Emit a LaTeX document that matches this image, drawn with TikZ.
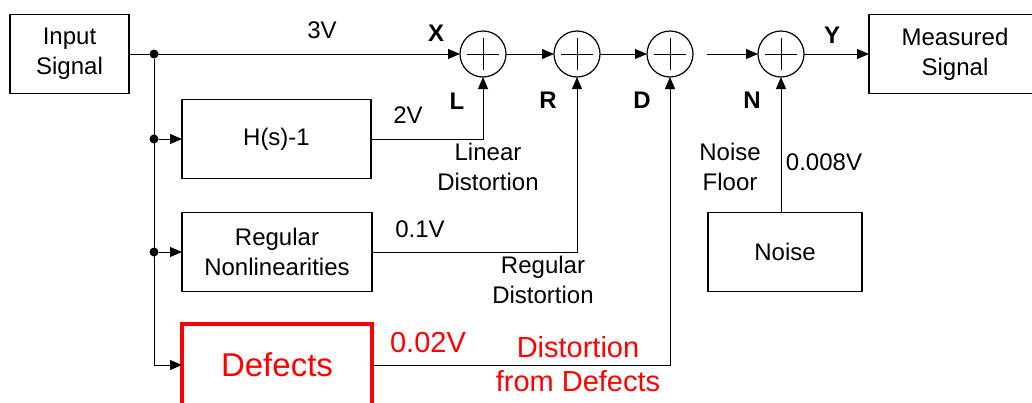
\documentclass[tikz,border=0pt]{standalone}
\usepackage{fontspec}
\setmainfont{Liberation Sans}
\usetikzlibrary{arrows.meta}
\definecolor{defred}{HTML}{FF0000}
\tikzset{
  box/.style={draw,line width=0.65pt,align=center,inner sep=2pt,outer sep=0pt,
    minimum height=39.5pt,font=\fontsize{12}{15}\selectfont},
  sum/.style={draw,circle,line width=0.6pt,minimum size=23pt,inner sep=0pt,outer sep=0pt,
    path picture={\draw[line width=0.5pt]
      ([xshift=-8pt]path picture bounding box.center) -- ([xshift=8pt]path picture bounding box.center)
      ([yshift=-8pt]path picture bounding box.center) -- ([yshift=8pt]path picture bounding box.center);}},
  arr/.style={-{Triangle[length=6pt,width=5pt]},line width=0.5pt},
  line/.style={line width=0.5pt},
  dot/.style={circle,fill,inner sep=0pt,minimum size=4.5pt},
  note/.style={font=\fontsize{12}{15}\selectfont,align=center},
  tag/.style={font=\bfseries\fontsize{12}{15}\selectfont},
  hot/.style={text=defred,font=\fontsize{14.5}{17}\selectfont,align=center}
}
\begin{document}
\begin{tikzpicture}[x=0.5pt,y=-0.5pt]
  \useasboundingbox (0,0) rectangle (1032,402);
  \clip (0,0) rectangle (1032,402);
  % forward path
  \node[box,minimum width=59.5pt] (in) at (69.5,54) {Input\\Signal};
  \node[sum] (sumX) at (483,54) {};
  \node[sum] (sumR) at (577,54) {};
  \node[sum] (sumD) at (670,54) {};
  \node[sum] (sumN) at (781,54) {};
  \node[box,minimum width=86pt] (out) at (955,54) {Measured\\Signal};
  % branches
  \node[box,minimum width=94.5pt] (hs) at (276.5,139) {H(s)-1};
  \node[box,minimum width=95pt] (reg) at (277,252) {Regular\\Nonlinearities};
  \node[box,minimum width=95pt,minimum height=41pt,draw=defred,line width=1.6pt,
    text=defred,font=\fontsize{16.5}{20}\selectfont] (def) at (277,365) {Defects};
  \node[box,minimum width=77pt] (noise) at (785,252) {Noise};
  % junctions
  \node[dot] (j1) at (154,54) {};
  \node[dot] (j2) at (154,139) {};
  \node[dot] (j3) at (154,252) {};
  \coordinate (j4) at (154,365);
  \coordinate (gap) at (707,54);

  \draw[arr] (in) -- (sumX);
  \draw[line] (j1) -- (j4);
  \draw[arr] (j2) -- (hs);
  \draw[arr] (j3) -- (reg);
  \draw[arr] (j4) -- (def);
  \draw[arr] (hs) -| (sumX);
  \draw[arr] (reg) -| (sumR);
  \draw[arr] (def) -| (sumD);
  \draw[arr] (noise.north -| sumN) -- (sumN);
  \draw[arr] (sumX) -- (sumR);
  \draw[arr] (sumR) -- (sumD);
  \draw[arr] (gap) -- (sumN);
  \draw[arr] (sumN) -- (out);

  % labels
  \node[note] (v3) at (322,30) {3V};
  \node[note] (v2) at (408,115) {2V};
  \node[note] (v01) at (420,229) {0.1V};
  \node[note] (v008) at (824,162) {0.008V};
  \node[note] (lin) at (488,167) {Linear\\Distortion};
  \node[note] (regd) at (543,280) {Regular\\Distortion};
  \node[note] (floor) at (730,167) {Noise\\Floor};
  \node[tag] (tX) at (436,33) {X};
  \node[tag] (tL) at (457,101) {L};
  \node[tag] (tR) at (548,100) {R};
  \node[tag] (tD) at (642,100) {D};
  \node[tag] (tN) at (752,100) {N};
  \node[tag] (tY) at (832,35) {Y};
  \node[hot] (v002) at (428,343) {0.02V};
  \node[hot] (defd) at (578,364) {Distortion\\from Defects};
\end{tikzpicture}
\end{document}
